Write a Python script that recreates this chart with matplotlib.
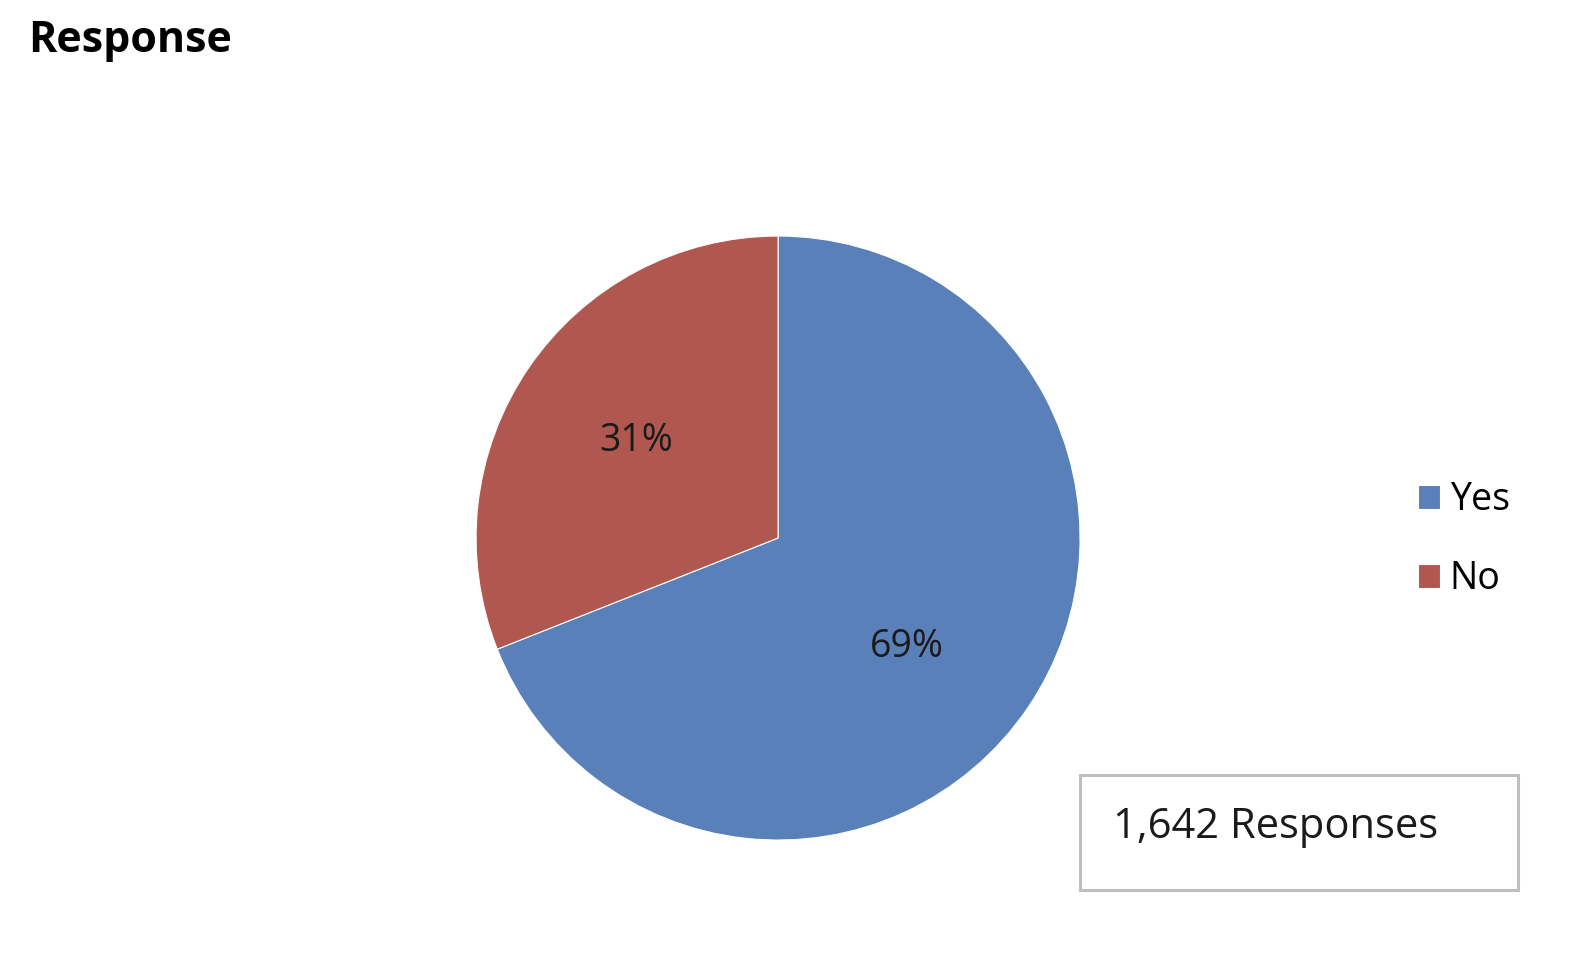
import numpy as np
import matplotlib.pyplot as plt
from matplotlib.patches import Rectangle

labels = ["Yes", "No"]
shares = [69, 31]
colors = ["#5980B8", "#B05750"]
title = "Response"
total_note = "1,642 Responses"

plt.rcParams["font.family"] = ["Open Sans", "DejaVu Sans"]

fig = plt.figure(figsize=(15.9, 9.56), dpi=100)
ax = fig.add_axes([0.2994, 0.1213, 0.3799, 0.6318])

wedges, _, pct_texts = ax.pie(
    shares,
    colors=colors,
    startangle=90,
    counterclock=False,
    autopct="%d%%",
    pctdistance=0.57,
    wedgeprops=dict(edgecolor="white", linewidth=0.8),
    textprops=dict(fontsize=27, color="#1a1a1a"),
)
# the big slice's label sits a bit lower, as in the original
w = wedges[0]
mid = np.deg2rad((w.theta1 + w.theta2) / 2 - 6)
pct_texts[0].set_position((0.56 * np.cos(mid), 0.56 * np.sin(mid)))

ax.set_xlim(-1, 1)
ax.set_ylim(-1, 1)
ax.set_aspect("equal")

fig.text(0.0176, 0.958, title, fontsize=31, fontweight="bold", va="center", ha="left")

fig.legend(
    wedges, labels,
    loc="center left",
    bbox_to_anchor=(0.8918, 0.4355),
    frameon=False,
    fontsize=27,
    handlelength=0.6,
    handleheight=0.6,
    handletextpad=0.25,
    labelspacing=1.08,
    borderpad=0,
    borderaxespad=0,
)

# responses box
fig.patches.append(Rectangle(
    (1080 / 1590, 1 - 890 / 956), 438 / 1590, 115 / 956,
    transform=fig.transFigure, fill=False, edgecolor="#BFBFBF", linewidth=2.2,
))
fig.text(1113 / 1590, 1 - 827 / 956, total_note, fontsize=30, va="center", ha="left", color="#1a1a1a")

fig.savefig("out.png", dpi=100)
